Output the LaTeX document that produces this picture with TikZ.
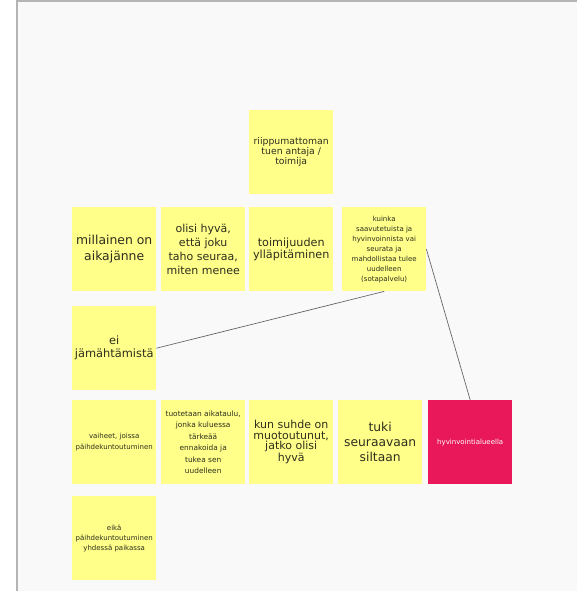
\documentclass[tikz,border=0pt]{standalone}
\usepackage{fontspec}
\setmainfont{DejaVu Sans}
\definecolor{notey}{HTML}{FFFF8A}
\definecolor{notem}{HTML}{E8185A}
\definecolor{txt}{HTML}{2E2E1E}
\definecolor{bgc}{HTML}{F9F9F9}
\definecolor{framec}{HTML}{B4B4B4}
\definecolor{linec}{HTML}{666666}
\tikzset{
  note/.style={fill=notey, minimum width=84pt, minimum height=84pt, anchor=north west,
    align=center, inner sep=1pt, text=txt},
  hotnote/.style={note, fill=notem, text=white},
  conn/.style={draw=linec, line width=0.7pt},
  fs/.style={font=\fontsize{#1}{#1}\selectfont},
  fsl/.style 2 args={font=\fontsize{#1}{#2}\selectfont}
}
\begin{document}
\begin{tikzpicture}[x=1pt,y=-1pt]
\useasboundingbox (0,0) rectangle (577,591);
\fill[white] (0,0) rectangle (577,591);
\fill[bgc] (17,1) rectangle (577,591);
\draw[framec, line width=1.5pt] (17,591) -- (17,1) -- (577,1);

\node[note, fsl={9.3}{10}] (riip) at (249,110) {riippumattoman\\tuen antaja /\\toimija};

\node[note, fsl={12.4}{16}] (mill) at (72,207) {millainen on\\aikajänne};
\node[note, fsl={11}{14}] (olisi) at (161,207) {olisi hyvä,\\että joku\\taho seuraa,\\miten menee};
\node[note, fsl={11.2}{12.5}] (toim) at (249,207) {toimijuuden\\ylläpitäminen};
\node[note, fsl={7}{10}] (kuinka) at (342,207) {kuinka\\saavutetuista ja\\hyvinvoinnista vai\\seurata ja\\mahdollistaa tulee\\uudelleen\\(sotapalvelu)};

\node[note, fsl={11.4}{13}] (ei) at (72,306) {ei\\jämähtämistä};

\node[note, fsl={7}{11}] (vaih) at (72,400) {vaiheet, joissa\\päihdekuntoutuminen};
\node[note, fsl={7.4}{11.5}] (tuot) at (161,400) {tuotetaan aikataulu,\\jonka kuluessa\\tärkeää\\ennakoida ja\\tukea sen\\uudelleen};
\node[note, fsl={11}{10.5}] (kun) at (249,400) {kun suhde on\\muotoutunut,\\jatko olisi\\hyvä};
\node[note, fsl={12.3}{15}] (tuki) at (338,400) {tuki\\seuraavaan\\siltaan};
\node[hotnote, fs={7}] (hyv) at (428,400) {hyvinvointialueella};

\node[note, fsl={7}{10}] (eika) at (72,496) {eikä\\päihdekuntoutuminen\\yhdessä paikassa};

\draw[conn] (kuinka.south) -- (ei.east);
\draw[conn] (kuinka.east) -- (hyv.north);
\end{tikzpicture}
\end{document}
